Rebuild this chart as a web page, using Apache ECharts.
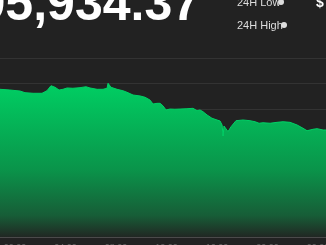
<!DOCTYPE html>
<html>
<head>
<meta charset="utf-8">
<script src="https://cdn.jsdelivr.net/npm/echarts@6/dist/echarts.min.js"></script>
<style>
html,body{margin:0;padding:0;background:#222222;}
#chart{width:326px;height:245px;}
</style>
</head>
<body>
<div id="chart"></div>
<script>
// hours since 00:00
const times = [-1.19,-0.40,0.40,0.79,1.43,2.14,2.53,2.85,3.17,3.49,3.80,4.12,4.59,5.15,5.62,5.94,6.50,6.97,7.29,7.37,7.60,8.08,8.55,8.87,9.35,9.90,10.30,10.69,10.93,11.25,11.49,11.72,11.96,12.28,12.67,13.07,13.62,14.10,14.42,14.65,14.89,15.21,15.60,16.00,16.24,16.40,16.48,16.55,16.63,16.87,17.11,17.50,18.06,18.61,19.01,19.33,19.64,20.20,20.75,21.23,21.78,22.34,22.81,23.13,23.60,23.92,24.40,24.63];
const prices = [94444,94437,94427,94411,94405,94405,94430,94479,94464,94437,94444,94457,94454,94460,94469,94457,94444,94444,94454,94503,94464,94444,94430,94415,94388,94379,94366,94339,94300,94307,94307,94282,94242,94251,94249,94251,94254,94258,94235,94242,94225,94193,94161,94144,94134,94095,93987,94085,94078,94030,94078,94137,94144,94137,94127,94112,94117,94112,94121,94127,94121,94095,94063,94039,94053,94059,94046,94046];
const tickHours = [0,4,8,12,16,20,24];
const tickLabels = ["00:00","04:00","08:00","12:00","16:00","20:00","00:00"];
const priceText = "$95,934.37";
const lowLabel = "24H Low";
const highLabel = "24H High";

const chart = echarts.init(document.getElementById('chart'));
const data = times.map((t, i) => [t, prices[i]]);
chart.setOption({
  backgroundColor: '#222222',
  animation: false,
  grid: {left: 0, right: 0, top: 58, bottom: 8, containLabel: false, outerBoundsMode: 'none'},
  xAxis: {
    type: 'value', min: -1.188, max: 24.63,
    axisLine: {show: true, lineStyle: {color: '#4a4a4a', width: 1}},
    axisTick: {show: false},
    splitLine: {show: false},
    axisLabel: {
      customValues: tickHours, color: '#666', fontSize: 9, margin: 6,
      fontFamily: 'Liberation Sans', hideOverlap: false,
      formatter: v => tickLabels[tickHours.indexOf(v)]
    }
  },
  yAxis: {
    type: 'value', min: 93000, max: 94750, interval: 250,
    axisLine: {show: false}, axisTick: {show: false}, axisLabel: {show: false},
    splitLine: {show: true, lineStyle: {color: '#333333', width: 1}}
  },
  series: [{
    type: 'line', data: data, showSymbol: false, z: 1,
    lineStyle: {color: '#00d166', width: 1},
    areaStyle: {
      opacity: 1,
      color: new echarts.graphic.LinearGradient(0, 0, 0, 1, [
        {offset: 0, color: '#00cf63'},
        {offset: 0.24, color: '#04b658'},
        {offset: 0.56, color: '#0a944a'},
        {offset: 0.86, color: '#175d37'},
        {offset: 1, color: '#212723'}
      ])
    }
  }],
  graphic: [
    {type: 'text', x: 200, y: 6, style: {text: priceText, fill: '#ffffff', font: 'bold 50px "Liberation Sans"', textAlign: 'right', textVerticalAlign: 'middle'}},
    {type: 'text', x: 237, y: 3, style: {text: lowLabel, fill: '#dddddd', font: '11px "Liberation Sans"', textAlign: 'left', textVerticalAlign: 'middle'}},
    {type: 'circle', shape: {cx: 281, cy: 2, r: 3}, style: {fill: '#dddddd'}},
    {type: 'text', x: 237, y: 26, style: {text: highLabel, fill: '#dddddd', font: '11px "Liberation Sans"', textAlign: 'left', textVerticalAlign: 'middle'}},
    {type: 'circle', shape: {cx: 284, cy: 25, r: 3}, style: {fill: '#dddddd'}},
    {type: 'text', x: 316, y: 3, style: {text: '$', fill: '#ffffff', font: 'bold 14px "Liberation Sans"', textAlign: 'left', textVerticalAlign: 'middle'}}
  ]
});
</script>
</body>
</html>
